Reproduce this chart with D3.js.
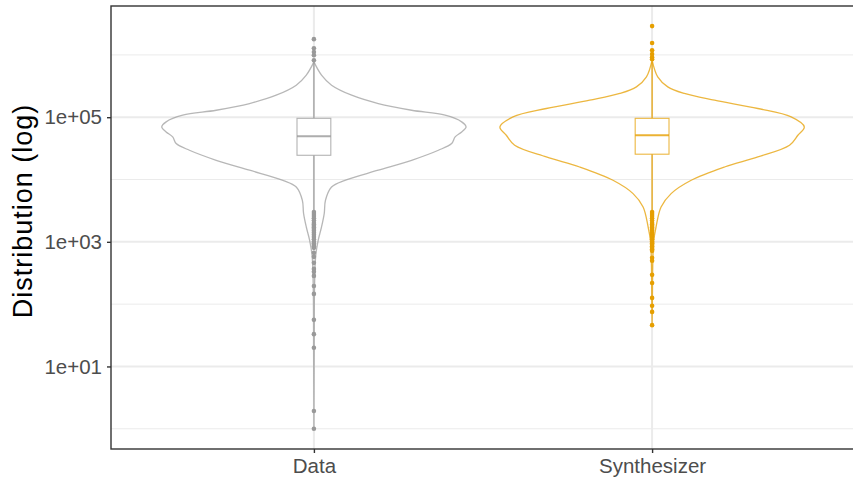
<!DOCTYPE html>
<html>
<head>
<meta charset="utf-8">
<script src="https://cdn.jsdelivr.net/npm/d3@7"></script>
<style>
  body { margin: 0; background: #fff; }
  svg { display: block; font-family: "Liberation Sans", Arial, sans-serif; }
</style>
</head>
<body>
<div id="chart"></div>
<script>
// categories and colours
const groups = ["Data", "Synthesizer"];
const groupColors = ["#999999", "#E69F00"];

// box stats (quartiles and whisker ends)
const q1 = [24500, 25500];
const medians = [49500, 51500];
const q3 = [96000, 96000];
const whiskerLow = [3200, 3200];
const whiskerHigh = [760000, 760000];

// outliers
const dataOutliers = [1790000, 1280000, 1110000, 990000, 820000,
  3000, 2800, 2600, 2400, 2200, 2000, 1900, 1800, 1700, 1600, 1500, 1400, 1300, 1200,
  1100, 1000, 950, 900, 850, 800, 665, 574, 460, 368, 330, 284, 196, 146, 56, 33, 20, 1.93, 1.0];
const synthOutliers = [2900000, 1550000, 1190000, 1030000, 920000, 850000,
  3000, 2800, 2600, 2400, 2200, 2000, 1900, 1800, 1700, 1600, 1500, 1400, 1300, 1200,
  1100, 1000, 950, 900, 850, 800, 760, 716, 553, 496, 295, 219, 126, 94, 75, 46];

// violin outlines: log10 level and relative half-width
const dataViolinLog = [5.888, 5.675, 5.514, 5.353, 5.22, 5.112, 5.032, 4.925, 4.844, 4.764, 4.684,
  4.578, 4.47, 4.309, 4.149, 3.988, 3.88, 3.667, 3.458, 3.238, 3.024, 2.78, 2.22, 1.26, 0];
const dataViolinWidth = [0, 0.05, 0.116, 0.248, 0.423, 0.642, 0.862, 0.971, 1.0, 0.971, 0.928,
  0.905, 0.818, 0.642, 0.423, 0.204, 0.116, 0.076, 0.068, 0.05, 0.028, 0.012, 0.004, 0.002, 0];
const synthViolinLog = [5.916, 5.647, 5.487, 5.381, 5.273, 5.14, 5.005, 4.844, 4.711, 4.55,
  4.362, 4.201, 3.988, 3.774, 3.559, 3.238, 3.024, 2.703, 2.06, 1.667];
const synthViolinWidth = [0, 0.037, 0.103, 0.212, 0.41, 0.695, 0.914, 1.0, 0.958, 0.903,
  0.695, 0.476, 0.257, 0.125, 0.059, 0.026, 0.011, 0.005, 0.002, 0];

const yMajor = [10, 1000, 100000];
const yMinor = [1, 100, 10000, 1000000];
const yTickLabels = ["1e+01", "1e+03", "1e+05"];

const W = 853, H = 480;
const margin = { top: 6, right: -2, bottom: 31, left: 111 };
const pLeft = margin.left, pRight = W - margin.right;
const pTop = margin.top, pBottom = H - margin.bottom;

const svg = d3.select("#chart").append("svg")
  .attr("width", W).attr("height", H);

const x = d3.scaleLinear().domain([0.4, 2.6]).range([pLeft, pRight]);
const y = d3.scaleLog().domain([Math.pow(10, -0.325), Math.pow(10, 6.785)]).range([pBottom, pTop]);
const unit = x(2) - x(1);

// grid
const grid = svg.append("g");
grid.selectAll(".minor").data(yMinor).join("line")
  .attr("x1", pLeft).attr("x2", pRight)
  .attr("y1", d => y(d)).attr("y2", d => y(d))
  .attr("stroke", "#EBEBEB").attr("stroke-width", 1);
grid.selectAll(".major").data(yMajor).join("line")
  .attr("x1", pLeft).attr("x2", pRight)
  .attr("y1", d => y(d)).attr("y2", d => y(d))
  .attr("stroke", "#EBEBEB").attr("stroke-width", 2);
grid.selectAll(".vmajor").data(groups).join("line")
  .attr("x1", (d, i) => x(i + 1)).attr("x2", (d, i) => x(i + 1))
  .attr("y1", pTop).attr("y2", pBottom)
  .attr("stroke", "#EBEBEB").attr("stroke-width", 2);

const violins = [
  { log: dataViolinLog, w: dataViolinWidth },
  { log: synthViolinLog, w: synthViolinWidth }
];
const outliers = [dataOutliers, synthOutliers];
const halfMax = 0.45 * unit;
const boxHalf = 0.05 * unit;

groups.forEach((g, i) => {
  const cx = x(i + 1);
  const col = groupColors[i];
  const v = violins[i];
  const pts = v.log.map((l, k) => ({ v: Math.pow(10, l), w: v.w[k] }));
  const rightSide = pts.map(p => [cx + p.w * halfMax, y(p.v)]);
  const leftSide = pts.slice().reverse().map(p => [cx - p.w * halfMax, y(p.v)]);
  const line = d3.line().curve(d3.curveCatmullRom);
  svg.append("path")
    .attr("d", line(rightSide) + "L" + line(leftSide).slice(1) + "Z")
    .attr("fill", "none")
    .attr("stroke", col).attr("stroke-opacity", i === 0 ? 0.7 : 0.75)
    .attr("stroke-width", 1.3);

  const gb = svg.append("g");
  // whiskers
  gb.append("line").attr("x1", cx).attr("x2", cx)
    .attr("y1", y(whiskerHigh[i])).attr("y2", y(q3[i]))
    .attr("stroke", col).attr("stroke-width", 1.2);
  gb.append("line").attr("x1", cx).attr("x2", cx)
    .attr("y1", y(q1[i])).attr("y2", y(whiskerLow[i]))
    .attr("stroke", col).attr("stroke-width", 1.2);
  // outlier points
  gb.selectAll("circle").data(outliers[i]).join("circle")
    .attr("cx", cx).attr("cy", d => y(d)).attr("r", 2.3)
    .attr("fill", col);
  // box
  gb.append("rect")
    .attr("x", cx - boxHalf).attr("width", 2 * boxHalf)
    .attr("y", y(q3[i])).attr("height", y(q1[i]) - y(q3[i]))
    .attr("fill", "#fff").attr("stroke", col).attr("stroke-opacity", 0.75)
    .attr("stroke-width", 1.1);
  gb.append("line")
    .attr("x1", cx - boxHalf).attr("x2", cx + boxHalf)
    .attr("y1", y(medians[i])).attr("y2", y(medians[i]))
    .attr("stroke", col).attr("stroke-opacity", 0.8).attr("stroke-width", 2);
});

// panel border
svg.append("rect")
  .attr("x", pLeft).attr("y", pTop)
  .attr("width", pRight - pLeft).attr("height", pBottom - pTop)
  .attr("fill", "none").attr("stroke", "#333333").attr("stroke-width", 1.4);

// axes
const yAxis = svg.append("g").attr("transform", `translate(${pLeft},0)`)
  .call(d3.axisLeft(y).tickValues(yMajor).tickSize(4).tickPadding(5)
    .tickFormat((d, k) => yTickLabels[k]));
const xAxis = svg.append("g").attr("transform", `translate(0,${pBottom})`)
  .call(d3.axisBottom(x).tickValues([1, 2]).tickSize(4).tickPadding(5)
    .tickFormat(d => groups[d - 1]));
[yAxis, xAxis].forEach(a => {
  a.select(".domain").remove();
  a.selectAll(".tick line").attr("stroke", "#333333").attr("stroke-width", 1.4);
  a.selectAll(".tick text").attr("fill", "#4D4D4D")
    .style("font-size", "20.5px").style("font-family", "Liberation Sans, Arial, sans-serif");
});

svg.append("text")
  .attr("transform", `translate(32,211) rotate(-90)`)
  .attr("text-anchor", "middle")
  .style("font-size", "27px")
  .style("letter-spacing", "1px")
  .attr("fill", "#000")
  .text("Distribution (log)");
</script>
</body>
</html>
